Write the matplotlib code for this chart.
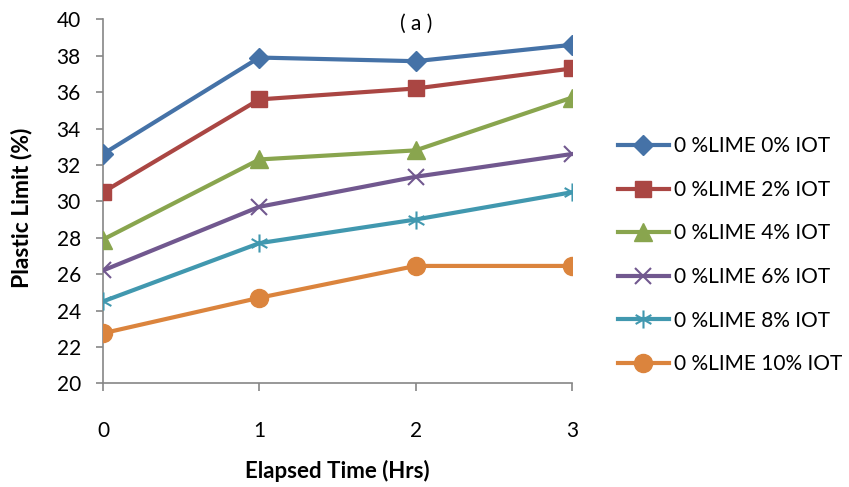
import numpy as np
import matplotlib.pyplot as plt
from matplotlib.path import Path

plt.rcParams['font.family'] = ['Lato', 'DejaVu Sans']

# Data
elapsed_hrs = [0, 1, 2, 3]
labels = ['0 %LIME 0% IOT', '0 %LIME 2% IOT', '0 %LIME 4% IOT',
          '0 %LIME 6% IOT', '0 %LIME 8% IOT', '0 %LIME 10% IOT']
iot_0 = [32.6, 37.9, 37.7, 38.6]
iot_2 = [30.5, 35.6, 36.2, 37.3]
iot_4 = [27.9, 32.3, 32.8, 35.7]
iot_6 = [26.2, 29.7, 31.35, 32.6]
iot_8 = [24.5, 27.7, 29.0, 30.5]
iot_10 = [22.75, 24.7, 26.45, 26.45]

# Excel-like asterisk marker (x with a vertical stroke)
star = Path([(0, -1), (0, 1), (-0.87, -0.5), (0.87, 0.5), (-0.87, 0.5), (0.87, -0.5)],
            [Path.MOVETO, Path.LINETO] * 3)

series = [iot_0, iot_2, iot_4, iot_6, iot_8, iot_10]
colors = ['#4572A7', '#AA4643', '#89A54E', '#71588F', '#4198AF', '#DB843D']
markers = ['D', 's', '^', 'x', star, 'o']
msizes = [10.5, 12, 13, 12, 13, 13]

fig = plt.figure(figsize=(8.49, 4.87), dpi=100)
ax = fig.add_axes([0.1213, 0.2129, 0.5524, 0.7474])

for vals, lab, c, m, ms in zip(series, labels, colors, markers, msizes):
    line_marker = {}
    if m == 'x' or m is star:
        line_marker = dict(markerfacecolor='none', markeredgewidth=1.5)
    ax.plot(elapsed_hrs, vals, color=c, lw=3, marker=m, markersize=ms,
            label=lab, **line_marker)

ax.set_xlim(0, 3)
ax.set_ylim(20, 40)
ax.set_xticks(elapsed_hrs)
ax.set_yticks(np.arange(20, 41, 2))

for s in ['top', 'right']:
    ax.spines[s].set_visible(False)
for s in ['left', 'bottom']:
    ax.spines[s].set_color('#868686')
    ax.spines[s].set_linewidth(1.2)
    ax.spines[s].set_zorder(0)
ax.tick_params(axis='y', direction='out', length=5, width=1.2, color='#868686',
               pad=11, labelsize=15)
ax.tick_params(axis='x', direction='out', length=6, width=1.2, color='#868686',
               pad=21, labelsize=15)

fig.text(22 / 849, 1 - 207.5 / 487, 'Plastic Limit (%)', fontsize=16.5,
         fontweight='bold', rotation=90, ha='center', va='center')
fig.text(337.5 / 849, 1 - 471 / 487, 'Elapsed Time (Hrs)', fontsize=16,
         fontweight='bold', ha='center', va='center')
fig.text(416.5 / 849, 1 - 24 / 487, '( a )', fontsize=15, ha='center', va='center')

fig.legend(loc='upper left', bbox_to_anchor=(0.718, 0.737), frameon=False,
           fontsize=15, handlelength=2.45, handletextpad=0.25, labelspacing=1.13,
           borderaxespad=0)

fig.savefig('out.png', dpi=100)
